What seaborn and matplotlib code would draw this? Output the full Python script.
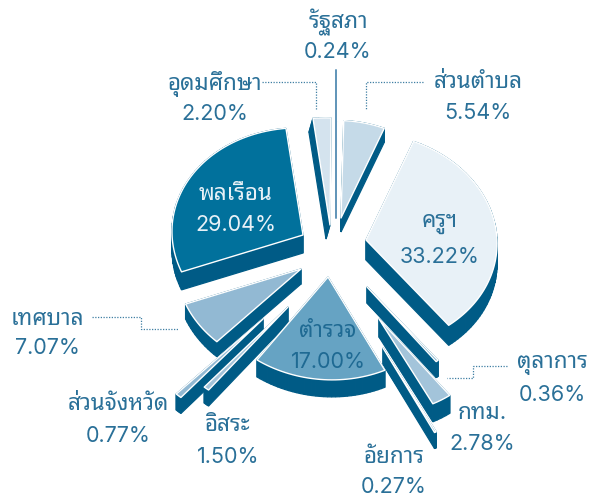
import numpy as np
import matplotlib
matplotlib.use('Agg')
import matplotlib.pyplot as plt
import seaborn as sns

# ---- data ----
categories = ['ส่วนตำบล', 'ครูฯ', 'ตุลาการ', 'กทม.', 'อัยการ', 'ตำรวจ',
              'อิสระ', 'ส่วนจังหวัด', 'เทศบาล', 'พลเรือน', 'อุดมศึกษา', 'รัฐสภา']
values = [5.54, 33.22, 0.36, 2.78, 0.27, 17.00, 1.50, 0.77, 7.07, 29.04, 2.20, 0.24]

# ---- style / layout ----
top_colors = ['#c5dae8', '#e8f1f7', '#74adcb', '#a3c4da', '#74adcb', '#66a3c3',
              '#a3c4da', '#92b9d3', '#92b9d3', '#01719c', '#d4e3ee', '#5f94b8']
palette = sns.color_palette(top_colors)
side_color = '#005b86'
text_color = '#2a7098'
leader_color = '#3f7fa3'

center = (335, 250)
# explode offset of every slice's apex from the pie centre (px)
explode = [(6, -32), (31, -10), (32, 37), (44, 69), (48, 98), (-7, 27),
           (-47, 57), (-72, 69), (-34, 19), (-32, -15), (-5, -25), (0, -31)]
radius_scale = [0.91, 1.0, 0.86, 0.88, 0.87, 0.96, 1.0, 0.98, 0.95, 1.0, 1.0, 0.93]
sweep_scale = [1, 1, 1, 1, 1, 1, 0.45, 1, 1, 1, 1, 1]
depths = [14, 20, 16, 18, 16, 17, 16, 16, 15, 18, 14, 0]
side_dx = [0, 0, 0, 0, 0, 0, 0, 0, 0, 0, -4, 0]
# projection of the tilted disc: screen = M . (sin, cos)
mx = (131, 3)
my = (6, -107)

name_xy = [(478, 82), (440, 223), (552, 364), (482, 413), (394, 457), (328, 331),
           (228, 425), (118, 404), (47, 319), (236, 194), (215, 84), (338, 22)]
line_gap = [31, 34, 31, 31, 30, 31, 32, 32, 29, 31, 30, 30]
label_colors = [text_color] * 12
label_colors[9] = '#e8f1f7'
label_colors[5] = '#1f6a93'

leader_paths = [
    ([423, 366, 366], [82, 82, 110]),
    ([262, 316, 316], [82, 82, 110]),
    ([92, 141, 141, 179], [317, 317, 329, 329]),
    ([507, 473, 473, 447], [366, 366, 378, 378]),
]

sns.set_theme(style='white')
plt.rcParams['font.family'] = ['Inter', 'Noto Sans Thai Looped', 'DejaVu Sans']

fig = plt.figure(figsize=(5.89, 4.98), dpi=100)
ax = fig.add_axes([0, 0, 1, 1])
ax.set_xlim(0, 589)
ax.set_ylim(498, 0)
ax.axis('off')

share = np.array(values) / np.sum(values) * 2 * np.pi
ends = np.cumsum(share)
starts = ends - share


def outline(i):
    n = max(4, int(share[i] / 0.03))
    t = np.linspace(ends[i] - share[i] * sweep_scale[i], ends[i], n)
    r = radius_scale[i]
    x = r * (mx[0] * np.sin(t) + mx[1] * np.cos(t))
    y = r * (my[0] * np.sin(t) + my[1] * np.cos(t))
    ox, oy = center[0] + explode[i][0], center[1] + explode[i][1]
    return np.r_[ox, ox + x, ox], np.r_[oy, oy + y, oy]


# back to front
order = sorted(range(len(values)), key=lambda k: explode[k][1] - 40 * np.cos(starts[k] + share[k] / 2))
for i in order:
    x, y = outline(i)
    d, sx = depths[i], side_dx[i]
    if d:
        for j in range(len(x) - 1):
            ax.fill([x[j], x[j + 1], x[j + 1] + sx, x[j] + sx], [y[j], y[j + 1], y[j + 1] + d, y[j] + d],
                    facecolor=side_color, edgecolor=side_color, lw=0.9, zorder=2)
    ax.fill(x, y, facecolor=palette[i], edgecolor='white', lw=1.0, joinstyle='round', zorder=3)

for lx, ly in leader_paths:
    ax.plot(lx, ly, color=leader_color, lw=0.9, ls=(0, (1, 1.2)), zorder=1)
ax.plot([336, 336], [70, 218], color='#5f94b8', lw=1.4, zorder=4)

for i, name in enumerate(categories):
    tx, ty = name_xy[i]
    ax.text(tx, ty, name, ha='center', va='center', fontsize=16.2, color=label_colors[i], zorder=5)
    ax.text(tx, ty + line_gap[i], f'{values[i]:.2f}%', ha='center', va='center',
            fontsize=15.5, color=label_colors[i], zorder=5)

fig.savefig('out.png', dpi=100)
